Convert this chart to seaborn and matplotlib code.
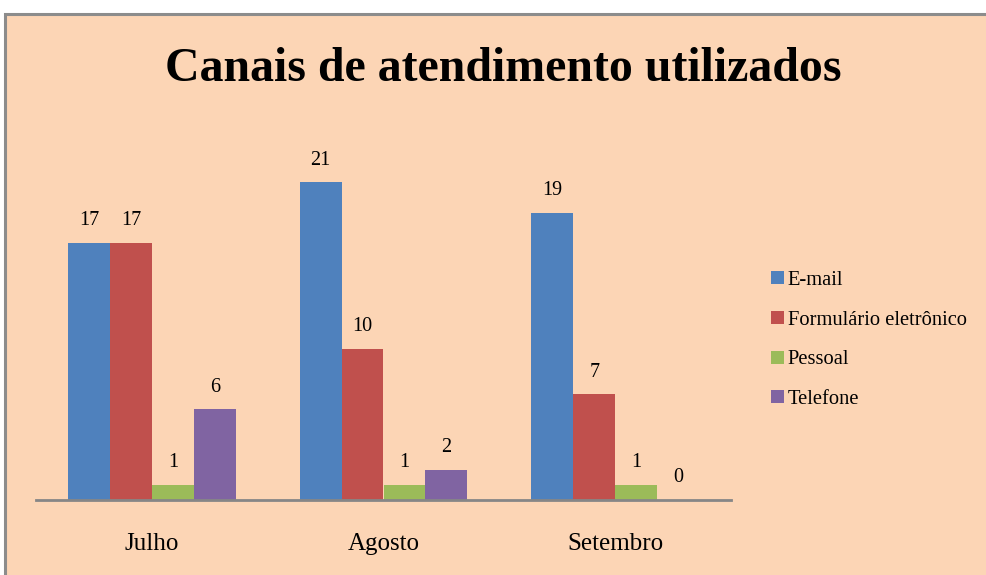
import pandas as pd
import seaborn as sns
import matplotlib.pyplot as plt
from matplotlib.patches import Rectangle

# Data
meses = ["Julho", "Agosto", "Setembro"]
canais = ["E-mail", "Formulário eletrônico", "Pessoal", "Telefone"]
email = [17, 21, 19]
formulario = [17, 10, 7]
pessoal = [1, 1, 1]
telefone = [6, 2, 0]

cores = ["#4F81BD", "#C0504D", "#9BBB59", "#8064A2"]
fundo = "#FCD5B5"

df = pd.DataFrame({
    "mes": meses * 4,
    "canal": [c for c in canais for _ in meses],
    "valor": email + formulario + pessoal + telefone,
})

sns.set_theme(style="white")
plt.rcParams["font.family"] = ["Liberation Serif", "DejaVu Serif"]
plt.rcParams["text.color"] = "black"
plt.rcParams["xtick.color"] = "black"

fig = plt.figure(figsize=(9.87, 5.75), dpi=100, facecolor="white")
# chart area background with grey border (left/top visible)
fig.patches.append(Rectangle((5 / 987, -0.05), 1.0, (575 - 14) / 575 + 0.05,
                             transform=fig.transFigure, facecolor=fundo,
                             edgecolor="#8C8C8C", linewidth=2.2, zorder=-1))

ax = fig.add_axes([36 / 987, 75 / 575, 695 / 987, 378 / 575])
ax.set_facecolor(fundo)

sns.barplot(data=df, x="mes", y="valor", hue="canal", hue_order=canais,
            order=meses, palette=cores, width=0.724, saturation=1,
            linewidth=0, ax=ax, legend=True)

for cont in ax.containers:
    ax.bar_label(cont, fmt="%d", padding=9, fontsize=14.5, color="black")

ax.set_ylim(0, 25)
ax.set_xlim(-0.5, 2.5)
ax.set_yticks([])
ax.set_xlabel("")
ax.set_ylabel("")
ax.tick_params(axis="x", length=0, labelsize=18, pad=24, labelcolor="black")
for s in ["top", "right", "left"]:
    ax.spines[s].set_visible(False)
ax.spines["bottom"].set_color("#868686")
ax.spines["bottom"].set_linewidth(2)

ax.legend(loc="center left", bbox_to_anchor=(763 / 987, 1 - 340 / 575),
          bbox_transform=fig.transFigure, frameon=False, fontsize=14.8,
          handlelength=0.6, handleheight=0.6, handletextpad=0.2,
          labelspacing=1.0, borderaxespad=0, labelcolor="black")

fig.text(503 / 987, 1 - 69 / 575, "Canais de atendimento utilizados",
         ha="center", va="center", fontsize=34.5, fontweight="bold",
         color="black")

fig.savefig("out.png", dpi=100, facecolor="white")
